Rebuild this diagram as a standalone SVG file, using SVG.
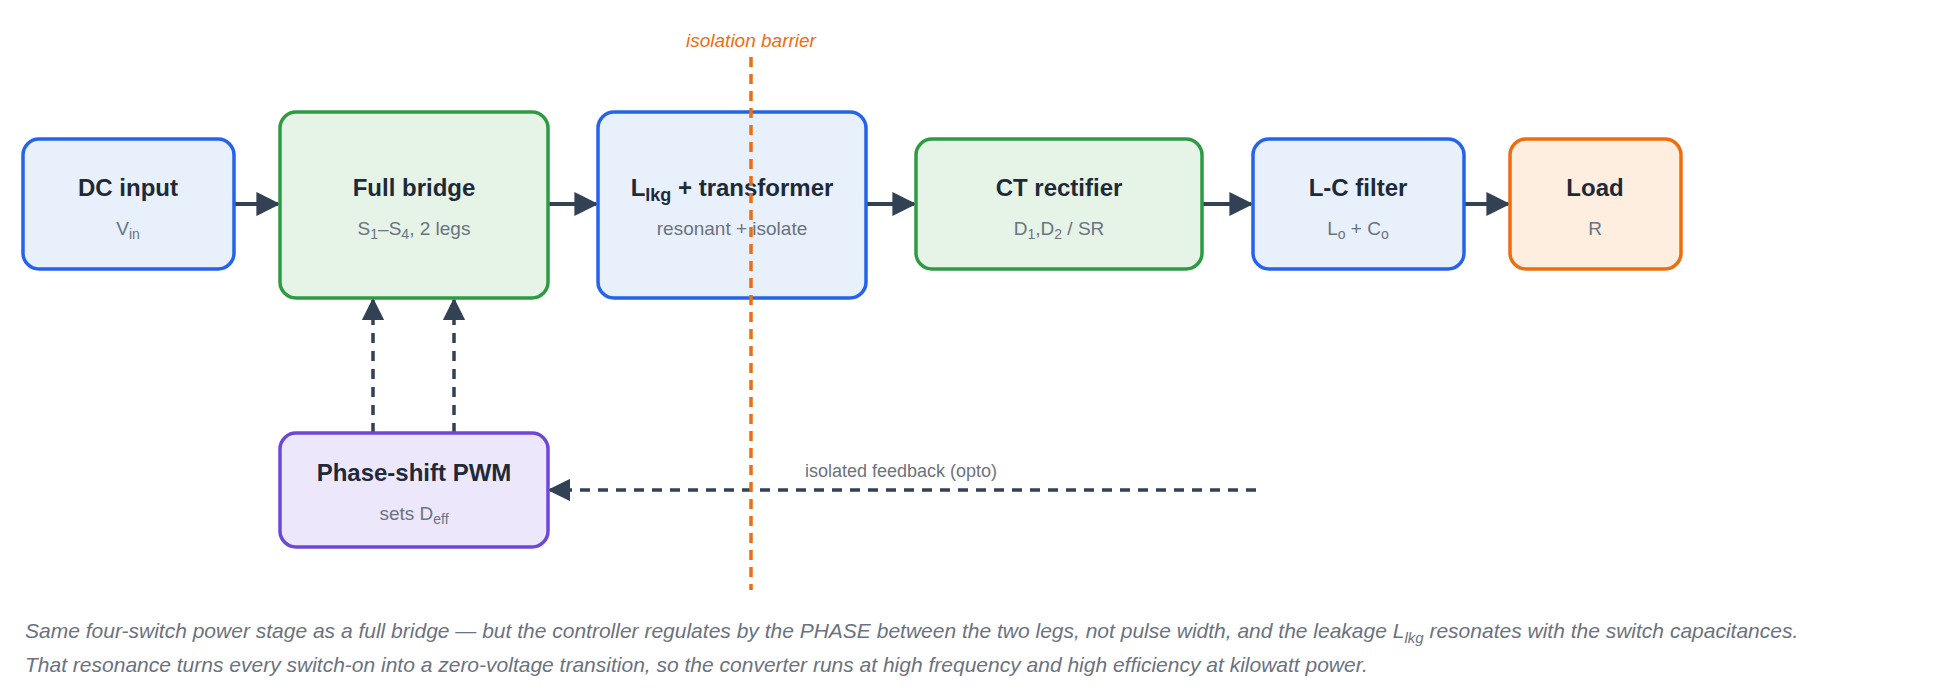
<svg xmlns="http://www.w3.org/2000/svg" width="1960" height="700" viewBox="0 0 1960 700">
<style>
.b{stroke-width:3.5}
.t{font-family:"Liberation Sans",Arial,sans-serif;font-weight:bold;font-size:24px;fill:#1f2937;text-anchor:middle}
.s{font-family:"Liberation Sans",Arial,sans-serif;font-size:19px;fill:#6b7280;text-anchor:middle}
.c{font-family:"Liberation Sans",Arial,sans-serif;font-style:italic;font-size:21px;fill:#6b7280}
.blue{fill:#e8f0fc;stroke:#2563eb}
.green{fill:#e6f4e7;stroke:#2f9a44}
.orange{fill:#feeedf;stroke:#ee6d0c}
.purple{fill:#ede7fb;stroke:#6d48d8}
.w{stroke:#334155;stroke-width:4;fill:none}
.d{stroke:#334155;stroke-width:3.5;fill:none;stroke-dasharray:10 8}
</style>
<defs>
<marker id="a" viewBox="0 0 10 10" refX="9" refY="5" markerWidth="6" markerHeight="6" markerUnits="strokeWidth" orient="auto"><path d="M0,0L10,5L0,10z" fill="#334155"/></marker>
<marker id="a2" viewBox="0 0 10 10" refX="9" refY="5" markerWidth="6.5" markerHeight="6.5" markerUnits="strokeWidth" orient="auto"><path d="M0,0L10,5L0,10z" fill="#334155"/></marker>
</defs>
<g id="connectors">
<line class="w" x1="234" y1="204" x2="278" y2="204" marker-end="url(#a)"/>
<line class="w" x1="548" y1="204" x2="596" y2="204" marker-end="url(#a)"/>
<line class="w" x1="866" y1="204" x2="914" y2="204" marker-end="url(#a)"/>
<line class="w" x1="1202" y1="204" x2="1251" y2="204" marker-end="url(#a)"/>
<line class="w" x1="1464" y1="204" x2="1508" y2="204" marker-end="url(#a)"/>
<line class="d" x1="373" y1="433" x2="373" y2="300" marker-end="url(#a2)"/>
<line class="d" x1="454" y1="433" x2="454" y2="300" marker-end="url(#a2)"/>
<line class="d" x1="1256" y1="490" x2="550" y2="490" marker-end="url(#a2)"/>
<text class="s" x="901" y="477" style="font-size:18px">isolated feedback (opto)</text>
</g>
<g id="dc"><rect class="b blue" x="23" y="139" width="211" height="130" rx="16"/><text class="t" x="128" y="196">DC input</text><text class="s" x="128" y="235">V<tspan font-size="14" dy="4">in</tspan></text></g>
<g id="bridge"><rect class="b green" x="280" y="112" width="268" height="186" rx="16"/><text class="t" x="414" y="196">Full bridge</text><text class="s" x="414" y="235">S<tspan font-size="14" dy="4">1</tspan><tspan dy="-4">–S</tspan><tspan font-size="14" dy="4">4</tspan><tspan dy="-4">, 2 legs</tspan></text></g>
<g id="xfmr"><rect class="b blue" x="598" y="112" width="268" height="186" rx="16"/><text class="t" x="732" y="196">L<tspan font-size="18" dy="5">lkg</tspan><tspan dy="-5"> + transformer</tspan></text><text class="s" x="732" y="235">resonant + isolate</text></g>
<g id="rect"><rect class="b green" x="916" y="139" width="286" height="130" rx="16"/><text class="t" x="1059" y="196">CT rectifier</text><text class="s" x="1059" y="235">D<tspan font-size="14" dy="4">1</tspan><tspan dy="-4">,D</tspan><tspan font-size="14" dy="4">2</tspan><tspan dy="-4"> / SR</tspan></text></g>
<g id="filter"><rect class="b blue" x="1253" y="139" width="211" height="130" rx="16"/><text class="t" x="1358" y="196">L-C filter</text><text class="s" x="1358" y="235">L<tspan font-size="14" dy="4">o</tspan><tspan dy="-4"> + C</tspan><tspan font-size="14" dy="4">o</tspan></text></g>
<g id="load"><rect class="b orange" x="1510" y="139" width="171" height="130" rx="16"/><text class="t" x="1595" y="196">Load</text><text class="s" x="1595" y="235">R</text></g>
<g id="pwm"><rect class="b purple" x="280" y="433" width="268" height="114" rx="16"/><text class="t" x="414" y="481">Phase-shift PWM</text><text class="s" x="414" y="520">sets D<tspan font-size="14" dy="4">eff</tspan></text></g>
<g id="barrier"><line x1="751" y1="57" x2="751" y2="590" stroke="#ee6d0c" stroke-width="3.5" stroke-dasharray="10 7"/><text x="751" y="47" text-anchor="middle" style="font-family:'Liberation Sans',Arial,sans-serif;font-style:italic;font-size:19px;fill:#ee6d0c">isolation barrier</text></g>
<text class="c" x="25" y="638">Same four-switch power stage as a full bridge — but the controller regulates by the PHASE between the two legs, not pulse width, and the leakage L<tspan font-size="15" dy="5">lkg</tspan><tspan dy="-5"> resonates with the switch capacitances.</tspan></text>
<text class="c" x="25" y="672">That resonance turns every switch-on into a zero-voltage transition, so the converter runs at high frequency and high efficiency at kilowatt power.</text>
</svg>
